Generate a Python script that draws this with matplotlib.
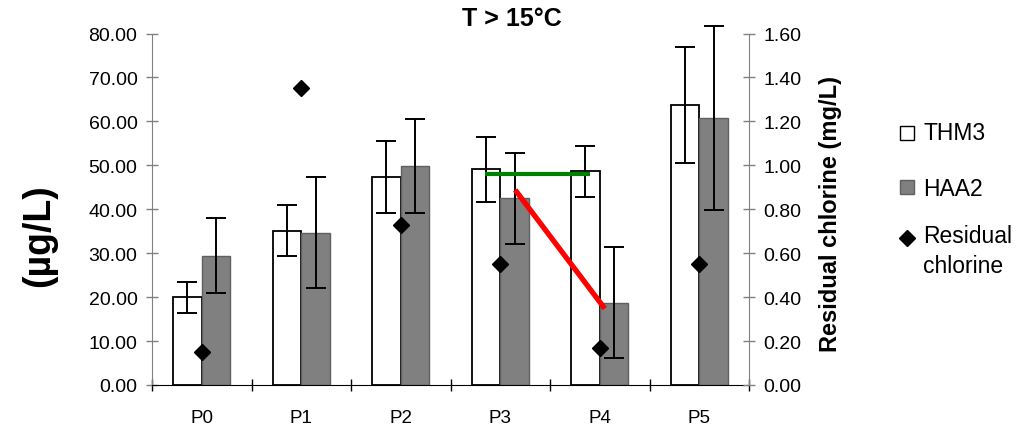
import matplotlib
matplotlib.use("Agg")
import matplotlib.pyplot as plt
from matplotlib.lines import Line2D
import numpy as np

plt.rcParams['font.family'] = ['Liberation Sans', 'DejaVu Sans']

# Sampling points
categories = ["P0", "P1", "P2", "P3", "P4", "P5"]

# Disinfection by-products (µg/L) and their standard deviations
thm3 = [20.0, 35.1, 47.3, 49.1, 48.6, 63.8]
thm3_err = [3.5, 5.8, 8.2, 7.4, 5.9, 13.2]
haa2 = [29.4, 34.7, 49.9, 42.5, 18.7, 60.8]
haa2_err = [8.5, 12.6, 10.7, 10.3, 12.6, 20.9]

# Residual chlorine (mg/L)
chlorine = [0.15, 1.35, 0.73, 0.55, 0.17, 0.55]

# Trend guides between P3 and P4 (category units, µg/L)
green_x = [2.85, 3.90]
green_y = [48.0, 48.0]
red_x = [3.15, 4.05]
red_y = [44.4, 17.4]

legend_labels = ["THM3", "HAA2", "Residual\nchlorine"]

W, H = 1024, 427
fig = plt.figure(figsize=(W / 100, H / 100), dpi=100)
ax = fig.add_axes([152 / W, 41 / H, (749 - 152) / W, (386 - 34.5) / H])
ax2 = ax.twinx()

x = np.arange(len(categories))
w = 0.288

ax.bar(x - w / 2, thm3, w, color="white", edgecolor="black", linewidth=1.3, zorder=2)
ax.bar(x + w / 2, haa2, w, color="#808080", edgecolor="#606060", linewidth=1.0, zorder=2)
ax.errorbar(x - w / 2, thm3, yerr=thm3_err, fmt="none", ecolor="black",
            elinewidth=1.4, capsize=7, capthick=1.4, zorder=3, clip_on=False)
ax.errorbar(x + w / 2, haa2, yerr=haa2_err, fmt="none", ecolor="black",
            elinewidth=1.4, capsize=7, capthick=1.4, zorder=3, clip_on=False)

ax.plot(green_x, green_y, color="#008000", linewidth=3.0, solid_capstyle="butt", zorder=4)
ax.plot(red_x, red_y, color="#ff0000", linewidth=3.8, solid_capstyle="butt", zorder=4)

ax2.plot(x, chlorine, linestyle="none", marker="D", markersize=8,
         color="black", zorder=5)

ax.set_xlim(-0.5, len(categories) - 0.5)
ax.set_ylim(0, 80)
ax2.set_ylim(0, 1.6)
ax.set_yticks(np.arange(0, 81, 10))
ax.set_yticklabels([f"{v:.2f}" for v in np.arange(0, 81, 10)])
ax2.set_yticks(np.arange(0, 1.61, 0.2))
ax2.set_yticklabels([f"{v:.2f}" for v in np.arange(0, 1.61, 0.2)])

ax.set_xticks(np.arange(-0.5, len(categories), 1.0))
ax.set_xticklabels([])
ax.set_xticks(x, minor=True)
ax.set_xticklabels(categories, minor=True)
ax.tick_params(axis="x", which="major", direction="inout", length=9, width=1.0, color="black")
ax.tick_params(axis="x", which="minor", length=0, pad=17, labelsize=13.5)

ax.tick_params(axis="y", direction="inout", length=9, width=1.0, color="#808080",
               labelsize=14, pad=6)
ax2.tick_params(axis="y", direction="inout", length=9, width=1.0, color="#808080",
                labelsize=14, pad=6)

for a in (ax, ax2):
    a.spines["top"].set_visible(False)
ax.spines["left"].set_color("#808080")
ax.spines["right"].set_visible(False)
ax2.spines["left"].set_visible(False)
ax2.spines["bottom"].set_visible(False)
ax2.spines["right"].set_color("#808080")
ax.spines["bottom"].set_color("black")
ax.spines["bottom"].set_zorder(6)

fig.text(0.5, 1 - 19 / H, "T > 15°C", ha="center", va="center",
         fontsize=18, fontweight="bold")
fig.text(39 / W, 1 - 236 / H, "(µg/L)", ha="center", va="center",
         rotation=90, fontsize=27, fontweight="bold")
fig.text(830 / W, 1 - 214 / H, "Residual chlorine (mg/L)", ha="center",
         va="center", rotation=90, fontsize=17, fontweight="bold")

# Legend, laid out by hand so the diamond sits beside the first text line
legend_markers = [
    dict(marker="s", markersize=9.5, markerfacecolor="white",
         markeredgecolor="black", markeredgewidth=1.0),
    dict(marker="s", markersize=9.5, markerfacecolor="#808080",
         markeredgecolor="#606060", markeredgewidth=1.0),
    dict(marker="D", markersize=8.5, markerfacecolor="black",
         markeredgecolor="black"),
]
marker_y = [134, 188, 239]
text_top = [122, 178, 225]
for spec, my, ty, label in zip(legend_markers, marker_y, text_top, legend_labels):
    fig.add_artist(Line2D([907 / W], [1 - my / H], linestyle="none",
                          transform=fig.transFigure, **spec))
    fig.text(923 / W, 1 - ty / H, label, ha="left", va="top",
             fontsize=16.5, linespacing=1.4)

fig.savefig("out.png", dpi=100)
